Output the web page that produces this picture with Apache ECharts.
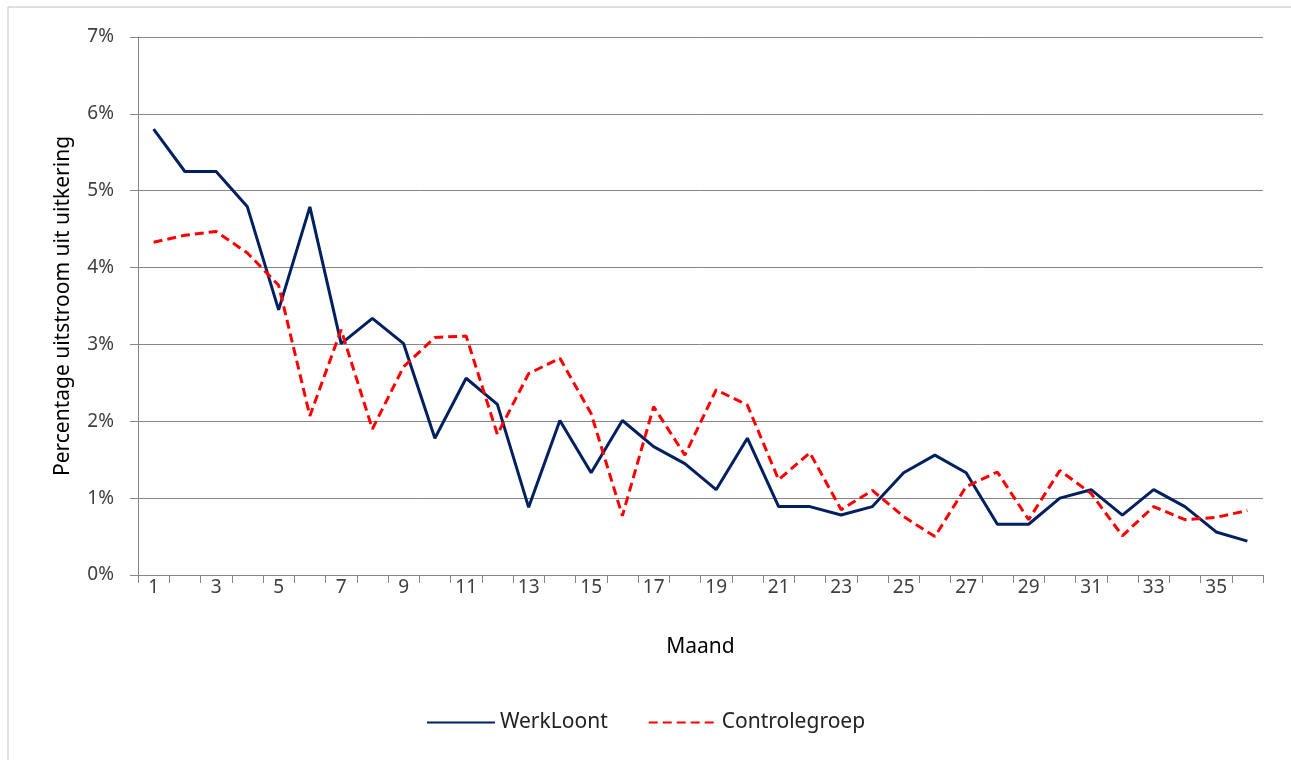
<!DOCTYPE html>
<html>
<head>
<meta charset="utf-8">
<script src="https://cdn.jsdelivr.net/npm/echarts@6/dist/echarts.min.js"></script>
<style>
  html, body { margin: 0; padding: 0; background: #fff; }
  #chart { width: 1291px; height: 760px; }
</style>
</head>
<body>
<div id="chart"></div>
<script>
// maanden 1..36
const months = [];
for (let m = 1; m <= 36; m++) months.push(String(m));

// uitstroom per maand, in procenten
const werkLoont = [5.80, 5.25, 5.25, 4.79, 3.45, 4.79, 3.01, 3.34, 3.01, 1.78,
  2.56, 2.22, 0.88, 2.01, 1.33, 2.01, 1.67, 1.45, 1.11, 1.78,
  0.89, 0.89, 0.78, 0.89, 1.33, 1.56, 1.33, 0.66, 0.66, 1.00,
  1.11, 0.78, 1.11, 0.89, 0.56, 0.44];
const controlegroep = [4.33, 4.42, 4.47, 4.19, 3.77, 2.07, 3.19, 1.90, 2.71, 3.09,
  3.11, 1.83, 2.62, 2.82, 2.10, 0.77, 2.19, 1.56, 2.41, 2.21,
  1.24, 1.59, 0.85, 1.10, 0.76, 0.50, 1.15, 1.34, 0.72, 1.36,
  1.06, 0.51, 0.89, 0.72, 0.75, 0.84];

const font = 'Noto Sans';
const chart = echarts.init(document.getElementById('chart'));

const option = {
  backgroundColor: '#fff',
  animation: false,
  textStyle: { fontFamily: font },
  graphic: [{
    type: 'rect',
    shape: { x: 8, y: 7, width: 1300, height: 770 },
    style: { fill: 'none', stroke: '#bfbfbf', lineWidth: 1 },
    silent: true
  }],
  grid: { left: 138, right: 28, top: 37, bottom: 185 },
  legend: {
    bottom: 22,
    left: 'center',
    itemWidth: 68,
    itemHeight: 12,
    itemGap: 40,
    itemStyle: { opacity: 0 },
    textStyle: { fontFamily: font, fontSize: 21, color: '#222' },
    data: ['WerkLoont', 'Controlegroep']
  },
  xAxis: {
    type: 'category',
    data: months,
    boundaryGap: true,
    name: 'Maand',
    nameLocation: 'middle',
    nameGap: 62,
    nameTextStyle: { fontFamily: font, fontSize: 21, color: '#000' },
    axisLine: { lineStyle: { color: '#868686', width: 1 } },
    axisTick: { show: true, length: 8, interval: 0, lineStyle: { color: '#868686' } },
    axisLabel: { interval: 1, margin: 3, fontSize: 19, color: '#404040', fontFamily: font }
  },
  yAxis: {
    type: 'value',
    min: 0,
    max: 7,
    interval: 1,
    name: 'Percentage uitstroom uit uitkering',
    nameLocation: 'middle',
    nameGap: 64,
    nameRotate: 90,
    nameTextStyle: { fontFamily: font, fontSize: 21, color: '#000' },
    axisLine: { show: true, lineStyle: { color: '#868686', width: 1 } },
    axisTick: { show: true, length: 8, lineStyle: { color: '#868686' } },
    axisLabel: { margin: 24, fontSize: 19, color: '#404040', fontFamily: font, formatter: '{value}%' },
    splitLine: { show: true, lineStyle: { color: '#868686', width: 1 } }
  },
  series: [
    {
      name: 'WerkLoont',
      type: 'line',
      data: werkLoont,
      symbol: 'none',
      itemStyle: { color: '#002060' },
      lineStyle: { color: '#002060', width: 3 }
    },
    {
      name: 'Controlegroep',
      type: 'line',
      data: controlegroep,
      symbol: 'none',
      itemStyle: { color: '#ff0000' },
      lineStyle: { color: '#ff0000', width: 3, type: [9, 5] }
    }
  ]
};

chart.setOption(option);
</script>
</body>
</html>
